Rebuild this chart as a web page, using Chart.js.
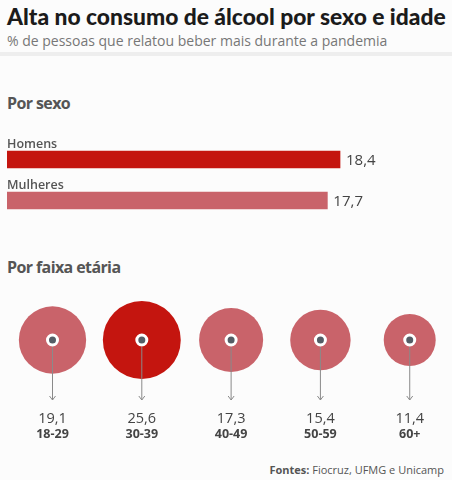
<!DOCTYPE html>
<html lang="pt">
<head>
<meta charset="utf-8">
<script src="https://cdn.jsdelivr.net/npm/chart.js@4.4.0/dist/chart.umd.min.js"></script>
<style>
  body { margin: 0; width: 452px; height: 480px; background: #fcfcfc; position: relative; overflow: hidden; font-family: "Open Sans", sans-serif; }
  .t { position: absolute; left: 7px; white-space: nowrap; }
  #title { top: 2px; font-family: Lato, sans-serif; font-weight: 900; font-size: 22.8px; color: #1b1b1b; }
  #sub { top: 31px; font-size: 14px; color: #777; }
  #sep { position: absolute; left: 0; top: 52px; width: 452px; height: 4px; background: #eeeeee; }
  .h { font-weight: 700; font-size: 16px; color: #555; letter-spacing: -0.6px; }
  #h1 { top: 92px; }
  #h2 { top: 256px; }
  #src { position: absolute; right: 8px; top: 462px; font-size: 11px; color: #555; white-space: nowrap; }
  #bars { position: absolute; left: 0; top: 130px; }
  #circles { position: absolute; left: 0; top: 290px; }
</style>
</head>
<body>
<div class="t" id="title">Alta no consumo de álcool por sexo e idade</div>
<div class="t" id="sub">% de pessoas que relatou beber mais durante a pandemia</div>
<div id="sep"></div>
<div class="t h" id="h1">Por sexo</div>
<div class="t h" id="h2">Por faixa etária</div>
<canvas id="bars" width="452" height="91"></canvas>
<canvas id="circles" width="452" height="160"></canvas>
<div id="src"><b>Fontes:</b> Fiocruz, UFMG e Unicamp</div>

<script>
// data
const sexLabels = ['Homens', 'Mulheres'];
const sexValues = [18.4, 17.7];
const ageLabels = ['18-29', '30-39', '40-49', '50-59', '60+'];
const ageValues = [19.1, 25.6, 17.3, 15.4, 11.4];

const RED = '#c4150f';
const PINK = '#c9636a';

function fmt(v) {
  return v.toFixed(1).replace('.', ',');
}

// start bar chart
const barLabels = {
  id: 'barLabels',
  afterDatasetsDraw(chart) {
    const c = chart.ctx;
    chart.getDatasetMeta(0).data.forEach((bar, i) => {
      c.save();
      c.textAlign = 'left';
      c.textBaseline = 'alphabetic';
      c.fillStyle = '#555';
      c.font = '600 12.5px "Open Sans"';
      c.fillText(sexLabels[i], chart.chartArea.left, bar.y - bar.height / 2 - 3);
      c.textBaseline = 'middle';
      c.fillStyle = '#444';
      c.font = '15px "Open Sans"';
      c.fillText(fmt(sexValues[i]), bar.x + 6, bar.y + 1);
      c.restore();
    });
  }
};

new Chart(document.getElementById('bars'), {
  type: 'bar',
  data: {
    labels: sexLabels,
    datasets: [{
      data: sexValues,
      backgroundColor: [RED, PINK],
      barThickness: 17,
    }]
  },
  options: {
    indexAxis: 'y',
    responsive: false,
    animation: false,
    layout: { padding: { left: 7, right: 7, top: 9, bottom: 0 } },
    scales: {
      x: { display: false, min: 0, max: 24.2 },
      y: { display: false },
    },
    plugins: { legend: { display: false }, tooltip: { enabled: false } },
  },
  plugins: [barLabels],
});
// end bar chart

// start circles chart
const maxAge = Math.max(...ageValues);

const ageMarks = {
  id: 'ageMarks',
  afterDatasetsDraw(chart) {
    const c = chart.ctx;
    const bottom = chart.chartArea.bottom;
    chart.getDatasetMeta(1).data.forEach((pt, i) => {
      c.save();
      // arrow
      c.strokeStyle = '#8a8a8a';
      c.lineWidth = 1;
      c.beginPath();
      c.moveTo(pt.x, pt.y + 7);
      c.lineTo(pt.x, bottom + 10);
      c.moveTo(pt.x - 3, bottom + 6);
      c.lineTo(pt.x, bottom + 10);
      c.lineTo(pt.x + 3, bottom + 6);
      c.stroke();
      // labels
      c.textAlign = 'center';
      c.textBaseline = 'middle';
      c.fillStyle = '#444';
      c.font = '14.5px "Open Sans"';
      c.fillText(fmt(ageValues[i]), pt.x, bottom + 29);
      c.font = '700 12.5px "Open Sans"';
      c.fillText(ageLabels[i], pt.x, bottom + 44);
      c.restore();
    });
  }
};

new Chart(document.getElementById('circles'), {
  type: 'scatter',
  data: {
    datasets: [
      {
        // center dots, drawn on top
        order: 1,
        data: ageValues.map((v, i) => ({ x: i, y: 0.5 })),
        pointRadius: 5,
        pointHoverRadius: 5,
        backgroundColor: '#555d66',
        borderColor: '#ffffff',
        borderWidth: 3,
        clip: false,
      },
      {
        order: 2,
        data: ageValues.map((v, i) => ({ x: i, y: 0.5 })),
        pointRadius: ctx => 7.7 * Math.sqrt(ageValues[ctx.dataIndex]),
        pointHoverRadius: ctx => 7.7 * Math.sqrt(ageValues[ctx.dataIndex]),
        backgroundColor: ctx => ageValues[ctx.dataIndex] === maxAge ? RED : PINK,
        borderWidth: 0,
        clip: false,
      },
    ]
  },
  options: {
    responsive: false,
    animation: false,
    layout: { autoPadding: false, padding: { left: 7, right: 7, top: 0, bottom: 60 } },
    scales: {
      x: { type: 'linear', display: false, min: -0.5095, max: 4.395 },
      y: { display: false, min: 0, max: 1 },
    },
    plugins: { legend: { display: false }, tooltip: { enabled: false } },
  },
  plugins: [ageMarks],
});
// end circles chart
</script>
</body>
</html>
